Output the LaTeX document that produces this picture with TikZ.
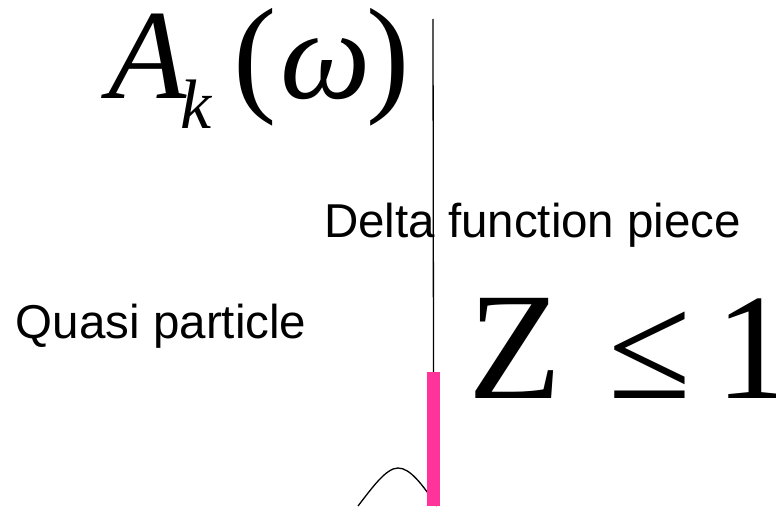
\documentclass[tikz,border=0pt]{standalone}
\usepackage{fontspec}
\setmainfont{Liberation Serif}
\newfontfamily\arialfont{Liberation Sans}
\definecolor{barpink}{RGB}{255,51,153}
\begin{document}
\begin{tikzpicture}[x=1pt,y=-1pt,
  lbl/.style={inner sep=0pt,outer sep=0pt,anchor=base west},
  clbl/.style={inner sep=0pt,outer sep=0pt,anchor=base},
  sanslbl/.style={lbl,font=\arialfont\fontsize{47.5}{47.5}\selectfont},
  bigserif/.style={font=\fontsize{130}{130}\selectfont},
  thinline/.style={draw=black,line width=1.3pt},
  humpline/.style={draw=black,line width=1.3pt}]
\useasboundingbox (0,0) rectangle (776,506);
% spectral function label
\node[lbl,font=\fontsize{128}{128}\selectfont\itshape] (A) at (108,98) {A};
\node[lbl,font=\fontsize{70}{70}\selectfont\itshape] (k) at (180,128) {k};
\node[lbl,bigserif] (lpar) at (233,98) {(};
\node[clbl,font=\fontsize{128}{128}\selectfont\itshape] (om) at (326,98) {ω};
\node[lbl,bigserif] (rpar) at (366,98) {)};
% texts
\node[sanslbl] (delta) at (324,237) {Delta function piece};
\node[sanslbl] (quasi) at (16,338) {Quasi particle};
\node[lbl,font=\fontsize{153}{153}\selectfont] (Z) at (468,398) {Z};
\node[clbl,font=\fontsize{151}{151}\selectfont] (le) at (650,398) {≤};
\node[lbl,font=\fontsize{151}{151}\selectfont] (one) at (715,398) {1};
% axis / delta line
\coordinate (axtop) at (433,19);
\coordinate (bartop) at (433.5,372);
\coordinate (barbot) at (433.5,506);
\draw[thinline] (axtop) -- (bartop);
% quasiparticle hump
\coordinate (hl) at (358,506);
\coordinate (hp) at (398,468);
\coordinate (hr) at (437,506);
\draw[humpline] (hl) .. controls (372,488) and (386,468) .. (hp)
  .. controls (410,468) and (422,484) .. (hr);
% delta function piece bar
\draw[barpink,line width=13pt] (bartop) -- (barbot);
\end{tikzpicture}
\end{document}
